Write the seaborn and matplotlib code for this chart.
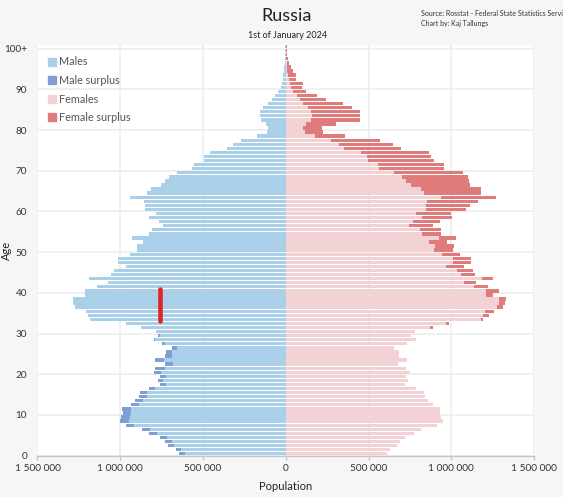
import numpy as np
import pandas as pd
import matplotlib.pyplot as plt
import matplotlib.ticker as mticker
from matplotlib.lines import Line2D
import seaborn as sns

# population by single year of age, thousands (age 100 = 100+)
ages = list(range(0, 101))
males = [643, 663, 714, 730, 758, 825, 867, 968, 1000, 994,
         984, 990, 935, 909, 885, 881, 829, 762, 774, 758,
         796, 788, 730, 790, 732, 722, 687, 750, 798, 774,
         786, 873, 968, 1181, 1192, 1206, 1276, 1288, 1286, 1210,
         1210, 1140, 1075, 1188, 1056, 1036, 967, 1012, 1011, 944,
         896, 899, 864, 928, 825, 811, 742, 768, 824, 784,
         848, 849, 855, 941, 837, 816, 754, 729, 703, 655,
         565, 556, 496, 492, 456, 353, 320, 272, 176, 115,
         105, 120, 150, 158, 155, 135, 105, 85, 65, 45,
         30, 24, 18, 14, 10, 8, 6, 4, 3, 2,
         3]
females = [609, 631, 673, 690, 718, 776, 820, 915, 948, 940,
           935, 935, 887, 861, 839, 837, 788, 722, 740, 724,
           752, 728, 679, 734, 687, 687, 655, 730, 788, 758,
           783, 891, 988, 1190, 1226, 1258, 1315, 1327, 1329, 1250,
           1288, 1220, 1150, 1252, 1146, 1131, 1075, 1120, 1122, 1055,
           1008, 1017, 977, 1030, 940, 940, 889, 929, 1004, 997,
           1090, 1112, 1160, 1271, 1178, 1178, 1116, 1106, 1101, 1070,
           955, 958, 897, 880, 868, 699, 646, 572, 358, 225,
           219, 306, 446, 446, 446, 401, 345, 246, 188, 121,
           96, 105, 62, 60, 45, 32, 22, 15, 10, 7,
           8]

x_ticks = [-1500000, -1000000, -500000, 0, 500000, 1000000, 1500000]
y_ticks = [0, 10, 20, 30, 40, 50, 60, 70, 80, 90, 100]
y_labels = ['0', '10', '20', '30', '40', '50', '60', '70', '80', '90', '100+']

# red marker drawn on the chart
marker_value = -762000
marker_ages = [33.2, 40.9]

MALE = '#aacfe9'
MALE_SURPLUS = '#7f9fd3'
FEMALE = '#f2d2d5'
FEMALE_SURPLUS = '#e07b7b'
BG = '#f6f6f6'

df = pd.DataFrame({'age': ages,
                   'males': np.array(males) * 1000,
                   'females': np.array(females) * 1000})
df['pos'] = df['age'] + 0.5
df['common'] = np.minimum(df['males'], df['females'])

sns.set_theme(style='white')
plt.rcParams['font.family'] = ['Lato', 'DejaVu Sans']

fig = plt.figure(figsize=(5.63, 4.97), dpi=100, facecolor=BG)
ax = fig.add_axes([0.0666, 0.0831, 0.8819, 0.8272])
ax.set_facecolor('white')

bar_kw = dict(orient='y', native_scale=True, width=0.82, errorbar=None,
              saturation=1, linewidth=0, ax=ax)
# full bars in surplus colours, common part painted over
sns.barplot(x=-df['males'], y=df['pos'], color=MALE_SURPLUS, **bar_kw)
sns.barplot(x=-df['common'], y=df['pos'], color=MALE, **bar_kw)
sns.barplot(x=df['females'], y=df['pos'], color=FEMALE_SURPLUS, **bar_kw)
sns.barplot(x=df['common'], y=df['pos'], color=FEMALE, **bar_kw)

ax.plot([marker_value, marker_value], marker_ages, color='#e2232a',
        linewidth=3.3, solid_capstyle='round', zorder=5)

ax.set_xlim(-1500000, 1500000)
ax.set_ylim(0, 101)
ax.set_xticks(x_ticks)
ax.xaxis.set_major_formatter(mticker.FuncFormatter(
    lambda v, p: f"{abs(int(v)):,}".replace(',', ' ')))
ax.set_yticks(y_ticks)
ax.set_yticklabels(y_labels)

ax.grid(True, color='#ececec', linewidth=1.1)
ax.set_axisbelow(True)
for s in ['left', 'top', 'right']:
    ax.spines[s].set_visible(False)
ax.spines['bottom'].set_color('#c4c4c4')
ax.spines['bottom'].set_linewidth(1)

ax.tick_params(axis='x', bottom=True, length=3, width=1, color='#c4c4c4',
               labelsize=7.3, labelcolor='#333333', pad=3)
ax.tick_params(axis='y', left=False, length=0, labelsize=7.2,
               labelcolor='#333333', pad=7.5)

ax.set_xlabel('Population', fontsize=8, color='#222222', labelpad=6)
ax.set_ylabel('Age', fontsize=8, color='#222222')
ax.yaxis.set_label_coords(-0.052, 0.5)

handles = [Line2D([], [], marker='s', ls='none', color=c, markersize=6, label=l)
           for c, l in [(MALE, 'Males'), (MALE_SURPLUS, 'Male surplus'),
                        (FEMALE, 'Females'), (FEMALE_SURPLUS, 'Female surplus')]]
ax.legend(handles=handles, loc='upper left', bbox_to_anchor=(0.0, 0.995),
          frameon=False, fontsize=7.8, labelcolor='#555555', handlelength=0.8,
          handletextpad=0.3, labelspacing=0.7, borderaxespad=0.5)

fig.text(287 / 563, 1 - 16 / 497, 'Russia', fontsize=13, color='#222222',
         ha='center', va='center')
fig.text(288 / 563, 1 - 35.5 / 497, '1st of January 2024', fontsize=6.5,
         color='#222222', ha='center', va='center')
fig.text(421 / 563, 1 - 13.5 / 497, 'Source: Rosstat - Federal State Statistics Service',
         fontsize=5, color='#333333', ha='left', va='center')
fig.text(421 / 563, 1 - 23.5 / 497, 'Chart by: Kaj Tallungs',
         fontsize=5, color='#333333', ha='left', va='center')

fig.savefig('out.png', dpi=100, facecolor=BG)
